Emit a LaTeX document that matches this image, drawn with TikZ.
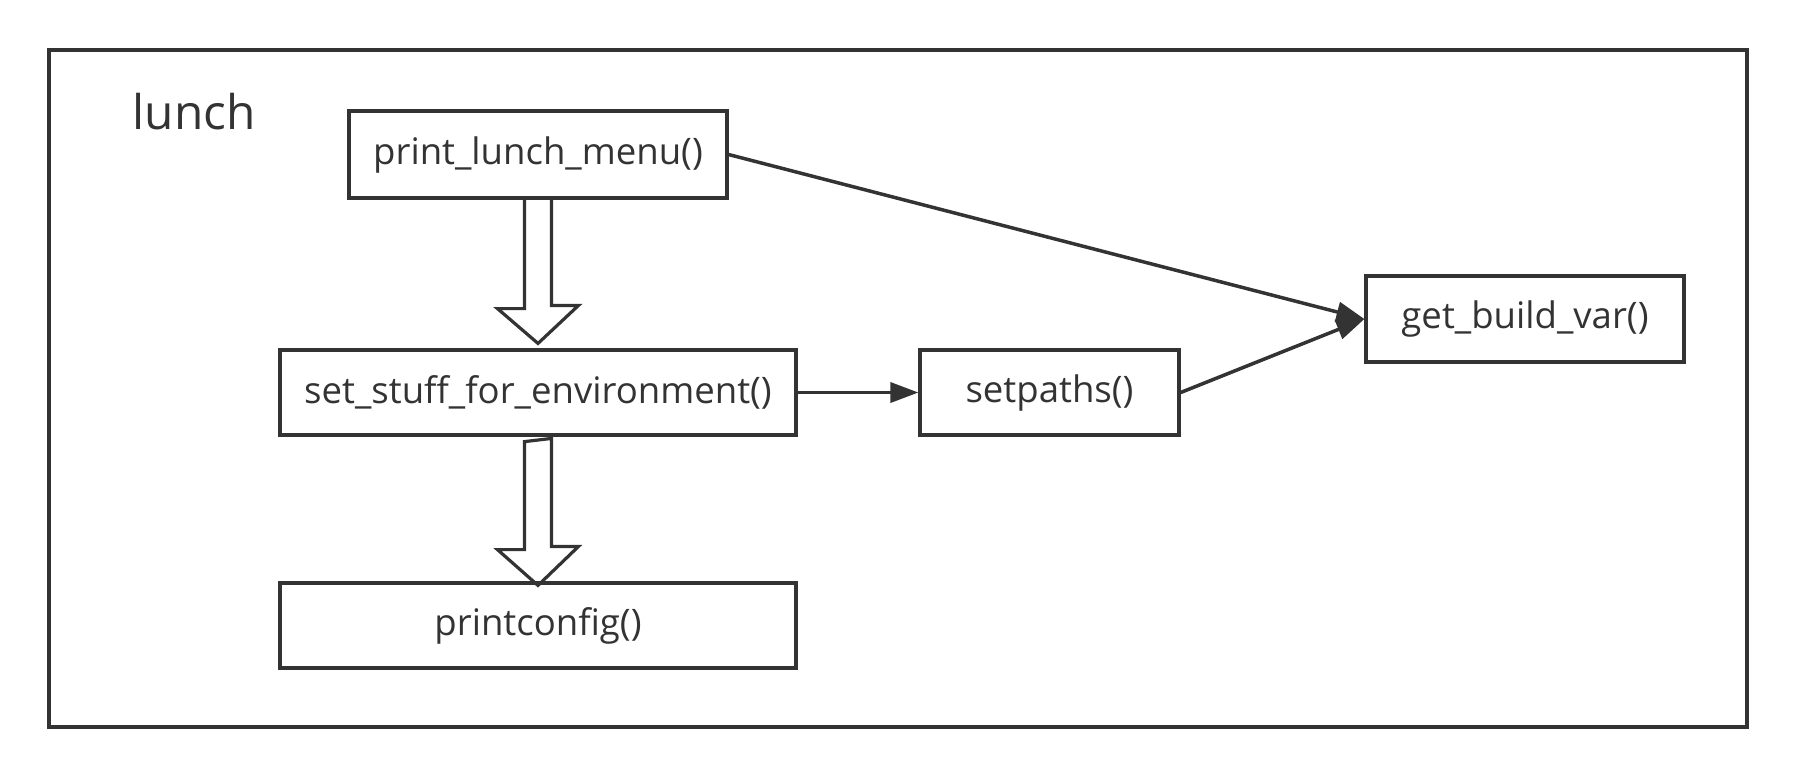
\documentclass[tikz,border=0pt]{standalone}
\usepackage{fontspec}
\setmainfont{Open Sans}
\usetikzlibrary{arrows.meta,calc}
\definecolor{LunchInk}{HTML}{333333}

\begin{document}
\begin{tikzpicture}[x=1cm,y=1cm,
  fn/.style={draw=LunchInk,line width=0.032cm,text=LunchInk,
    inner sep=0pt,font=\fontsize{10.4}{12}\selectfont},
  call/.style={-{Triangle[length=0.28cm,width=0.2cm]},LunchInk,line width=0.035cm},
  fat/.style={draw=LunchInk,line width=0.032cm,line join=miter}]
  \useasboundingbox (0,0) rectangle (17.96,-7.78);
  \node[draw=LunchInk,line width=0.032cm,minimum width=16.98cm,minimum height=6.77cm,
    inner sep=0pt] (frame) at (8.98,-3.885) {};
  \node[text=LunchInk,font=\fontsize{13.6}{16}\selectfont] (title) at (1.94,-1.12) {lunch};
  \node[fn,minimum width=3.78cm,minimum height=0.87cm] (menu)  at ( 5.38,-1.545) {print\_lunch\_menu()};
  \node[fn,minimum width=5.16cm,minimum height=0.85cm] (env)   at ( 5.38,-3.925) {set\_stuff\_for\_environment()};
  \node[fn,minimum width=5.16cm,minimum height=0.85cm] (cfg)   at ( 5.38,-6.255) {printconfig()};
  \node[fn,minimum width=2.59cm,minimum height=0.85cm] (paths) at (10.495,-3.925) {setpaths()};
  \node[fn,minimum width=3.18cm,minimum height=0.86cm] (bvar)  at (15.25,-3.19) {get\_build\_var()};
  % hollow block arrows
  \draw[fat] ($(menu.south)+(-0.135,0)$) -- ++(0,-1.09) -- ++(-0.27,0)
    -- ($(env.north)+(0,0.05)$) -- ++(0.405,0.38) -- ++(-0.27,0) -- ++(0,1.09);
  \draw[fat] ($(env.south)+(-0.135,-0.05)$) -- ++(0,-1.08) -- ++(-0.27,0)
    -- ($(cfg.north)+(0,-0.04)$) -- ++(0.405,0.39) -- ++(-0.27,0) -- ++(0,1.08) -- cycle;
  % calls
  \draw[call] (env.east) -- (paths.west);
  \draw[call] (paths.east) -- (bvar.west);
  \draw[call] (menu.east) -- (bvar.west);
\end{tikzpicture}
\end{document}
